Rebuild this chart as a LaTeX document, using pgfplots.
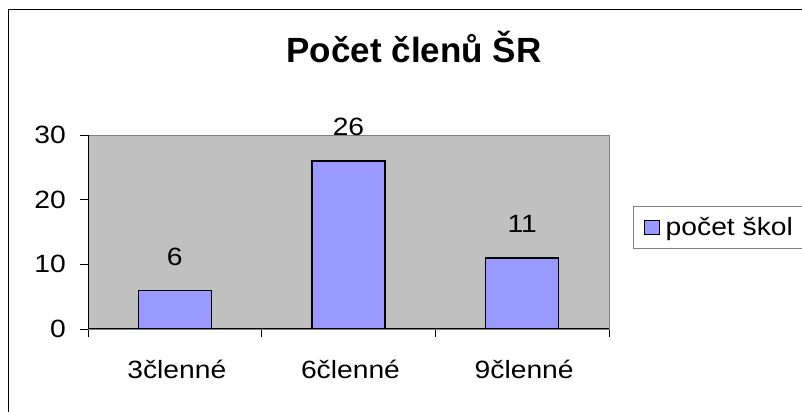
\documentclass[border=0pt]{standalone}
\usepackage{fontspec}
\setmainfont{Liberation Sans}
\usepackage{graphicx}
\usepackage{pgfplots}
\pgfplotsset{compat=1.18}
\definecolor{barblue}{HTML}{9999FF}
\definecolor{plotgray}{HTML}{C0C0C0}
\definecolor{bordergray}{HTML}{808080}
\newcommand\lbl{\fontsize{25bp}{29bp}\selectfont}
\newcommand\sx[1]{\scalebox{1.13}[1]{#1}}
\begin{document}
\begin{tikzpicture}
\path[use as bounding box] (0,0) rectangle (802bp,412bp);
\draw[black, line width=1bp] (8bp,0) -- (8bp,402bp) -- (802bp,402bp);
\node[font=\fontsize{35bp}{40bp}\selectfont\bfseries, anchor=base, inner sep=0pt] at (414bp,349bp) {Počet členů ŠR};
\begin{axis}[
  at={(88bp,83bp)}, anchor=south west,
  scale only axis, width=521bp, height=194bp,
  xmin=0.5, xmax=3.5, ymin=0, ymax=30,
  /pgf/number format/assume math mode=true,
  ytick={0,10,20,30},
  yticklabel={\sx{\pgfmathprintnumber{\tick}}},
  yticklabel style={font=\lbl, anchor=east, inner sep=0pt, xshift=-14bp},
  xtick={0.5,1.5,2.5,3.5},
  xticklabels={},
  extra x ticks={1,2,3},
  extra x tick labels={\sx{3členné},\sx{6členné},\sx{9členné}},
  extra x tick style={major tick length=0pt, xticklabel style={font=\lbl, anchor=base, inner sep=0pt, yshift=-49bp, xshift=2bp}},
  xtick pos=bottom, ytick pos=left,
  tick align=outside,
  major tick length=8bp,
  tick style={black, line width=1bp},
  axis background/.style={fill=plotgray},
  axis line style={draw=bordergray, line width=1bp},
  ybar, bar width=73bp,
  nodes near coords={\sx{\pgfmathprintnumber{\pgfplotspointmeta}}},
  every node near coord/.append style={font=\lbl, anchor=base, inner sep=0pt, yshift=25bp, black},
  legend style={at={(1.0461,0.6340)}, anchor=north west, draw=bordergray, line width=1bp, fill=white,
    inner xsep=10bp, inner ysep=8bp, font=\lbl, nodes={inner sep=3bp},
    /tikz/every odd column/.append style={column sep=3bp}},
  legend image code/.code={\draw[fill=barblue, draw=black, line width=1.2bp] (0bp,-7bp) rectangle (15bp,7bp);},
]
\addplot[fill=barblue, draw=black, line width=1.3bp] coordinates {(1,6) (2,26) (3,11)};
\addlegendentry{\sx{počet škol}}
\draw[black, line width=1.3bp] (rel axis cs:0,1) -- (rel axis cs:0,0) -- (rel axis cs:1,0);
\end{axis}
\end{tikzpicture}
\end{document}
